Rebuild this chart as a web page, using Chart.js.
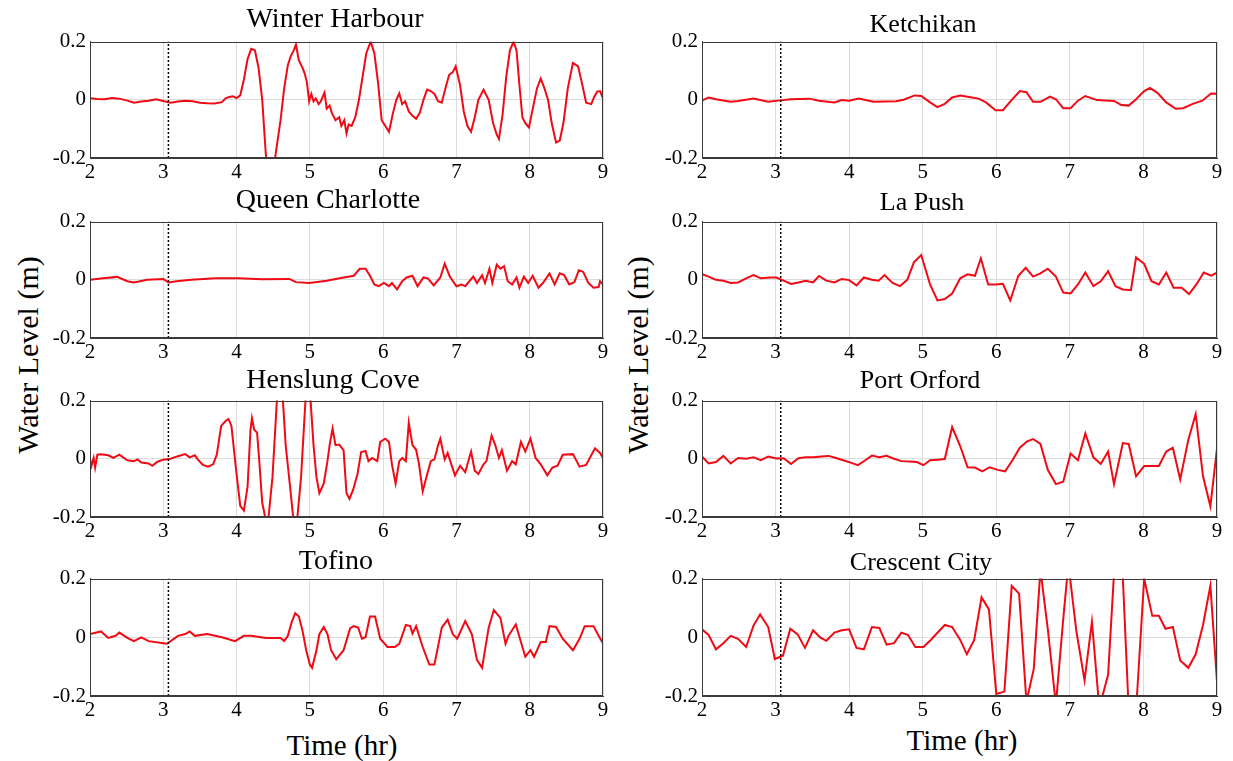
<!DOCTYPE html>
<html>
<head>
<meta charset="utf-8">
<script src="https://cdn.jsdelivr.net/npm/chart.js@4.4.1/dist/chart.umd.min.js"></script>
<style>
  body { margin: 0; background: #fff; width: 1233px; height: 761px; position: relative; overflow: hidden;
         font-family: "Liberation Serif", "Times New Roman", serif; }
  canvas { position: absolute; }
  .lbl { position: absolute; color: #000; white-space: nowrap; line-height: 1; transform: translate(-50%, -50%); }
</style>
</head>
<body>
<script>
// tide gauge records, water level (m) against time (hr)

const arrivalHour = 3.07;   // dotted marker
const xTicks = [2, 3, 4, 5, 6, 7, 8, 9];
const yTicks = [-0.2, 0, 0.2];

const winterHarbour = [
  [2.0,0.005],[2.1,0.003],[2.2,0.002],[2.3,0.006],[2.4,0.004],[2.5,-0.002],[2.6,-0.01],[2.7,-0.006],
  [2.8,-0.003],[2.9,0.002],[3.0,-0.004],[3.1,-0.01],[3.2,-0.006],[3.3,-0.003],[3.4,-0.005],[3.5,-0.01],
  [3.6,-0.012],[3.7,-0.013],[3.8,-0.008],[3.85,0.005],[3.9,0.01],[3.95,0.012],[4.0,0.006],[4.05,0.015],
  [4.1,0.07],[4.15,0.14],[4.2,0.175],[4.25,0.17],[4.3,0.11],[4.35,0.0],[4.4,-0.19],[4.46,-0.3],
  [4.52,-0.21],[4.6,-0.07],[4.65,0.04],[4.7,0.12],[4.74,0.15],[4.78,0.17],[4.81,0.19],[4.85,0.135],
  [4.9,0.11],[4.93,0.09],[4.96,0.06],[4.99,-0.005],[5.02,0.02],[5.05,-0.005],[5.08,0.005],[5.12,-0.015],
  [5.15,-0.005],[5.2,0.025],[5.23,-0.03],[5.27,-0.02],[5.3,-0.045],[5.35,-0.07],[5.4,-0.06],[5.43,-0.09],
  [5.47,-0.07],[5.5,-0.115],[5.53,-0.085],[5.57,-0.09],[5.62,-0.06],[5.67,0.0],[5.72,0.08],[5.77,0.16],
  [5.83,0.2],[5.88,0.16],[5.93,0.06],[5.98,-0.07],[6.03,-0.09],[6.08,-0.11],[6.13,-0.05],[6.18,0.0],
  [6.22,0.022],[6.26,-0.015],[6.3,-0.005],[6.35,-0.04],[6.4,-0.055],[6.45,-0.065],[6.5,-0.045],[6.55,0.0],
  [6.6,0.035],[6.65,0.03],[6.7,0.02],[6.75,-0.005],[6.8,-0.01],[6.85,0.04],[6.9,0.085],[6.95,0.095],
  [6.99,0.115],[7.05,0.05],[7.1,-0.04],[7.15,-0.09],[7.2,-0.11],[7.25,-0.06],[7.3,0.0],[7.37,0.035],
  [7.44,0.0],[7.5,-0.08],[7.55,-0.12],[7.58,-0.135],[7.63,-0.05],[7.68,0.08],[7.73,0.17],[7.78,0.2],
  [7.82,0.17],[7.86,0.05],[7.9,-0.06],[7.94,-0.08],[7.99,-0.095],[8.05,-0.02],[8.1,0.04],[8.15,0.073],
  [8.2,0.04],[8.25,0.0],[8.3,-0.08],[8.36,-0.147],[8.41,-0.14],[8.46,-0.08],[8.52,0.04],[8.59,0.127],
  [8.66,0.115],[8.71,0.06],[8.77,-0.01],[8.84,-0.015],[8.88,0.01],[8.92,0.028],[8.96,0.03],[9.0,0.005]
];

const queenCharlotte = [
  [2.0,0],[2.18,0.005],[2.37,0.01],[2.51,-0.005],[2.6,-0.009],[2.78,0],[3.0,0.003],[3.07,-0.009],
  [3.18,-0.005],[3.38,0],[3.71,0.005],[4.03,0.005],[4.35,0.002],[4.72,0.003],[4.81,-0.008],[4.99,-0.011],
  [5.23,-0.003],[5.46,0.008],[5.6,0.014],[5.68,0.038],[5.76,0.038],[5.82,0.014],[5.88,-0.016],[5.94,-0.022],
  [6.01,-0.011],[6.08,-0.022],[6.12,-0.011],[6.19,-0.033],[6.26,-0.005],[6.32,0.008],[6.4,0.014],[6.47,-0.022],
  [6.55,0.008],[6.61,0.005],[6.69,-0.019],[6.78,0.008],[6.84,0.055],[6.91,0.011],[7.0,-0.022],[7.07,-0.016],
  [7.12,-0.022],[7.23,0.011],[7.28,-0.011],[7.35,0.016],[7.39,-0.011],[7.45,0.038],[7.49,-0.011],[7.55,0.052],
  [7.6,0.038],[7.65,0.047],[7.7,-0.005],[7.76,-0.016],[7.82,0.008],[7.86,-0.027],[7.92,0.011],[7.98,-0.011],
  [8.04,0.014],[8.12,-0.027],[8.18,-0.011],[8.27,0.022],[8.34,-0.016],[8.41,0.022],[8.47,0.016],[8.54,-0.016],
  [8.61,-0.008],[8.67,0.033],[8.73,0.027],[8.8,-0.011],[8.87,-0.027],[8.94,-0.025],[8.96,-0.005],[9.0,-0.016]
];

const henslungCove = [
  [2.0,0],[2.02,-0.024],[2.05,0.003],[2.07,-0.03],[2.1,0.014],[2.15,0.016],[2.25,0.012],[2.32,0.003],
  [2.4,0.014],[2.51,-0.005],[2.6,-0.008],[2.65,-0.002],[2.7,-0.013],[2.8,-0.016],[2.85,-0.024],[2.92,-0.01],
  [3.0,-0.003],[3.1,0],[3.2,0.009],[3.3,0.016],[3.36,0.005],[3.43,0.012],[3.47,-0.002],[3.54,-0.021],
  [3.61,-0.027],[3.68,-0.019],[3.73,0.014],[3.79,0.113],[3.85,0.13],[3.89,0.137],[3.93,0.113],[3.99,-0.03],
  [4.05,-0.162],[4.1,-0.178],[4.15,-0.096],[4.19,0.1],[4.21,0.14],[4.24,0.1],[4.28,0.09],[4.31,-0.008],
  [4.35,-0.151],[4.39,-0.2],[4.43,-0.216],[4.49,-0.063],[4.55,0.2],[4.59,0.235],[4.63,0.21],[4.67,0.047],
  [4.73,-0.096],[4.77,-0.195],[4.82,-0.228],[4.88,-0.063],[4.94,0.2],[4.97,0.22],[5.01,0.2],[5.05,0.047],
  [5.09,-0.063],[5.13,-0.118],[5.19,-0.085],[5.24,-0.008],[5.27,0.047],[5.31,0.104],[5.35,0.047],[5.4,0.049],
  [5.46,0.03],[5.5,-0.118],[5.54,-0.138],[5.59,-0.107],[5.65,-0.052],[5.7,0.023],[5.76,0.027],[5.8,-0.008],
  [5.85,0.003],[5.92,-0.008],[5.96,0.058],[6.03,0.069],[6.08,0.058],[6.12,-0.019],[6.17,-0.085],[6.22,-0.008],
  [6.26,0.003],[6.31,-0.008],[6.35,0.124],[6.4,0.047],[6.45,0.031],[6.49,-0.019],[6.54,-0.112],[6.59,-0.063],
  [6.65,-0.008],[6.7,-0.002],[6.75,0.047],[6.78,0.069],[6.84,-0.002],[6.88,0.02],[6.98,-0.057],[7.05,-0.024],
  [7.12,-0.046],[7.2,0.025],[7.25,-0.041],[7.3,-0.052],[7.37,-0.019],[7.41,-0.008],[7.48,0.08],[7.53,0.047],
  [7.58,0.003],[7.62,0.03],[7.69,-0.041],[7.76,-0.008],[7.81,-0.019],[7.88,0.058],[7.94,0.025],[8.01,0.069],
  [8.08,0.003],[8.15,-0.019],[8.24,-0.057],[8.31,-0.03],[8.38,-0.024],[8.45,0.014],[8.59,0.016],[8.68,-0.027],
  [8.77,-0.021],[8.89,0.036],[8.96,0.02],[9.0,0.003]
];

const tofino = [
  [2.0,0.011],[2.15,0.02],[2.25,-0.002],[2.35,0.005],[2.4,0.016],[2.51,-0.002],[2.6,-0.013],[2.7,0],
  [2.8,-0.013],[3.0,-0.02],[3.05,-0.022],[3.2,0.005],[3.3,0.011],[3.36,0.02],[3.43,0.005],[3.6,0.011],
  [3.8,0],[3.98,-0.013],[4.1,0.005],[4.2,0.005],[4.4,-0.002],[4.6,-0.002],[4.65,-0.013],[4.7,0.005],
  [4.75,0.05],[4.8,0.082],[4.85,0.071],[4.9,0.022],[4.95,-0.044],[5.0,-0.093],[5.03,-0.104],[5.09,-0.044],
  [5.13,0.011],[5.19,0.035],[5.24,0.011],[5.29,-0.044],[5.36,-0.075],[5.46,-0.044],[5.55,0.031],[5.6,0.038],
  [5.66,0.033],[5.71,-0.005],[5.76,0],[5.82,0.071],[5.89,0.071],[5.96,-0.005],[6.06,-0.033],[6.16,-0.033],
  [6.22,-0.022],[6.31,0.042],[6.37,0.038],[6.4,0.013],[6.45,0.038],[6.54,-0.033],[6.63,-0.093],[6.7,-0.093],
  [6.8,0.033],[6.88,0.06],[6.95,0.011],[7.01,-0.005],[7.12,0.055],[7.21,0.011],[7.28,-0.077],[7.35,-0.104],
  [7.44,0.033],[7.51,0.093],[7.6,0.066],[7.67,-0.022],[7.71,0.005],[7.81,0.044],[7.9,-0.033],[7.94,-0.066],
  [8.01,-0.044],[8.06,-0.066],[8.15,-0.016],[8.22,-0.016],[8.27,0.038],[8.36,0.035],[8.45,-0.005],[8.59,-0.044],
  [8.68,-0.005],[8.75,0.038],[8.87,0.038],[8.94,0.005],[9.0,-0.02]
];

const ketchikan = [
  [2.0,-0.003],[2.09,0.008],[2.19,0.002],[2.39,-0.007],[2.49,-0.004],[2.7,0.004],[2.9,-0.007],[3.06,-0.002],
  [3.21,0.002],[3.46,0.004],[3.59,-0.003],[3.8,-0.009],[3.9,-0.001],[4.0,-0.003],[4.13,0.004],[4.33,-0.007],
  [4.64,-0.005],[4.74,0],[4.89,0.015],[4.98,0.013],[5.1,-0.009],[5.2,-0.025],[5.3,-0.014],[5.4,0.008],
  [5.51,0.015],[5.63,0.01],[5.76,0.004],[5.86,-0.009],[5.99,-0.036],[6.09,-0.036],[6.22,0.002],[6.32,0.03],
  [6.41,0.026],[6.5,-0.007],[6.6,-0.007],[6.73,0.011],[6.81,0.002],[6.91,-0.029],[7.01,-0.029],[7.11,-0.003],
  [7.21,0.013],[7.37,-0.001],[7.6,-0.004],[7.7,-0.018],[7.8,-0.02],[7.9,0.002],[8.01,0.03],[8.09,0.041],
  [8.19,0.024],[8.31,-0.009],[8.44,-0.031],[8.54,-0.029],[8.67,-0.014],[8.8,-0.003],[8.92,0.022],[9.0,0.021]
];

const laPush = [
  [2.0,0.019],[2.09,0.011],[2.19,0],[2.29,-0.003],[2.39,-0.011],[2.49,-0.009],[2.6,0.005],[2.7,0.016],
  [2.8,0.005],[2.93,0.008],[3.01,0.008],[3.11,-0.003],[3.21,-0.014],[3.31,-0.009],[3.41,-0.003],[3.51,-0.009],
  [3.59,0.013],[3.69,-0.003],[3.8,-0.009],[3.9,0.003],[4.0,-0.001],[4.1,-0.019],[4.2,0.008],[4.31,0],
  [4.4,-0.003],[4.48,0.016],[4.59,-0.011],[4.69,-0.022],[4.79,0],[4.88,0.06],[4.98,0.085],[5.1,-0.016],
  [5.2,-0.071],[5.3,-0.066],[5.4,-0.047],[5.51,0.005],[5.61,0.019],[5.71,0.014],[5.79,0.074],[5.89,-0.016],
  [5.99,-0.016],[6.09,-0.014],[6.19,-0.071],[6.3,0.014],[6.4,0.041],[6.5,0.011],[6.6,0.022],[6.7,0.038],
  [6.81,0.011],[6.91,-0.044],[7.01,-0.047],[7.11,-0.016],[7.21,0.025],[7.32,-0.022],[7.42,-0.005],[7.52,0.03],
  [7.62,-0.022],[7.72,-0.033],[7.83,-0.036],[7.9,0.077],[8.01,0.055],[8.11,-0.005],[8.21,-0.016],[8.31,0.025],
  [8.41,-0.027],[8.52,-0.027],[8.62,-0.049],[8.72,-0.016],[8.82,0.025],[8.92,0.014],[9.0,0.025]
];

const portOrford = [
  [2.0,0.008],[2.09,-0.016],[2.19,-0.011],[2.29,0.01],[2.39,-0.016],[2.49,0.003],[2.6,0],[2.7,0.005],
  [2.8,-0.005],[2.9,0.008],[3.01,0.001],[3.11,0.002],[3.21,-0.018],[3.31,0.002],[3.41,0.005],[3.52,0.005],
  [3.62,0.008],[3.72,0.01],[3.82,0.003],[3.92,-0.005],[4.03,-0.014],[4.12,-0.022],[4.22,-0.005],[4.31,0.011],
  [4.41,0.005],[4.51,0.01],[4.61,0],[4.71,-0.008],[4.82,-0.009],[4.92,-0.011],[5.01,-0.022],[5.1,-0.005],
  [5.2,-0.003],[5.3,-0.001],[5.4,0.109],[5.51,0.043],[5.61,-0.029],[5.71,-0.03],[5.81,-0.043],[5.91,-0.029],
  [6.02,-0.038],[6.12,-0.043],[6.22,-0.005],[6.32,0.038],[6.42,0.06],[6.5,0.068],[6.6,0.051],[6.7,-0.038],
  [6.81,-0.087],[6.91,-0.079],[7.01,0.018],[7.11,-0.005],[7.21,0.087],[7.32,0.005],[7.42,-0.018],[7.52,0.025],
  [7.6,-0.087],[7.72,0.054],[7.8,0.051],[7.9,-0.06],[8.01,-0.025],[8.11,-0.025],[8.21,-0.025],[8.31,0.025],
  [8.4,0.038],[8.5,-0.071],[8.61,0.065],[8.71,0.154],[8.81,-0.06],[8.91,-0.163],[9.0,0.036]
];

const crescentCity = [
  [2.0,0.027],[2.09,0.008],[2.19,-0.041],[2.29,-0.02],[2.39,0.005],[2.49,-0.005],[2.6,-0.033],[2.7,0.04],
  [2.79,0.078],[2.9,0.035],[2.99,-0.074],[3.1,-0.063],[3.2,0.029],[3.3,0.01],[3.4,-0.036],[3.51,0.024],
  [3.61,-0.001],[3.69,-0.012],[3.8,0.016],[3.9,0.024],[4.0,0.027],[4.1,-0.036],[4.2,-0.041],[4.31,0.035],
  [4.41,0.032],[4.51,-0.025],[4.61,-0.02],[4.71,0.016],[4.8,0.008],[4.9,-0.033],[5.01,-0.033],[5.11,-0.009],
  [5.21,0.018],[5.3,0.042],[5.4,0.035],[5.51,-0.009],[5.6,-0.058],[5.7,-0.009],[5.8,0.136],[5.9,0.095],
  [6.0,-0.193],[6.11,-0.185],[6.21,0.175],[6.31,0.149],[6.41,-0.22],[6.51,-0.107],[6.6,0.23],[6.7,0.029],
  [6.81,-0.23],[6.91,0.062],[6.98,0.25],[7.09,0.018],[7.2,-0.147],[7.3,0.053],[7.4,-0.24],[7.52,-0.128],
  [7.61,0.26],[7.71,0.26],[7.8,-0.25],[7.9,-0.25],[8.01,0.2],[8.12,0.073],[8.21,0.073],[8.3,0.029],
  [8.4,0.035],[8.5,-0.079],[8.61,-0.104],[8.71,-0.058],[8.81,0.042],[8.91,0.176],[9.0,-0.15]
];

const panels = [
  { title: 'Winter Harbour',  rec: winterHarbour,  col: 0, row: 0, tx: 335, ty: 18 },
  { title: 'Queen Charlotte', rec: queenCharlotte, col: 0, row: 1, tx: 328, ty: 199 },
  { title: 'Henslung Cove',   rec: henslungCove,   col: 0, row: 2, tx: 333, ty: 379 },
  { title: 'Tofino',          rec: tofino,         col: 0, row: 3, tx: 336, ty: 560 },
  { title: 'Ketchikan',       rec: ketchikan,      col: 1, row: 0, tx: 923, ty: 24 },
  { title: 'La Push',         rec: laPush,         col: 1, row: 1, tx: 922, ty: 202 },
  { title: 'Port Orford',     rec: portOrford,     col: 1, row: 2, tx: 920, ty: 380 },
  { title: 'Crescent City',   rec: crescentCity,   col: 1, row: 3, tx: 921, ty: 562 }
];

// plot area edges in page pixels
const colLeft = [90, 702], colRight = [603, 1217];
const rowTop = [37, 217, 396, 574], rowBottom = [158, 338, 517, 696];
const PAD_T = 12, PAD_R = 12, Y_W = 50, X_H = 30;
const serif = "'Liberation Serif', 'Times New Roman', serif";

Chart.defaults.font.family = serif;
Chart.defaults.color = '#000';

function addLabel(text, x, y, size, rotate) {
  const d = document.createElement('div');
  d.className = 'lbl';
  d.textContent = text;
  d.style.left = x + 'px';
  d.style.top = y + 'px';
  d.style.fontSize = size + 'px';
  if (rotate) d.style.transform = 'translate(-50%, -50%) rotate(-90deg)';
  document.body.appendChild(d);
}

// box around the plot area, like the matlab axes
const frame = {
  id: 'frame',
  afterDraw(chart) {
    const a = chart.chartArea, c = chart.ctx;
    c.save();
    c.strokeStyle = '#3a3a3a';
    c.lineWidth = 1;
    c.strokeRect(Math.round(a.left) + 0.5, Math.round(a.top) + 0.5,
                 Math.round(a.right - a.left) - 1, Math.round(a.bottom - a.top) - 1);
    c.restore();
  }
};

function fmt(v) {
  if (Math.abs(v) < 1e-9) return '0';
  return (Math.round(v * 10) / 10).toString();
}

function drawPanel(p) {
  const left = colLeft[p.col] - Y_W;
  const top = rowTop[p.row] - PAD_T;
  const w = colRight[p.col] - left + PAD_R;
  const h = rowBottom[p.row] - top + X_H;

  const cv = document.createElement('canvas');
  cv.width = w; cv.height = h;
  cv.style.left = left + 'px';
  cv.style.top = top + 'px';
  document.body.appendChild(cv);

  new Chart(cv, {
    type: 'line',
    data: {
      datasets: [
        {
          data: [{ x: arrivalHour, y: yTicks[0] }, { x: arrivalHour, y: yTicks[2] }],
          borderColor: '#000',
          borderWidth: 1.5,
          borderDash: [2, 2],
          pointRadius: 0,
          clip: 0
        },
        {
          data: p.rec.map(r => ({ x: r[0], y: r[1] })),
          borderColor: 'rgb(240, 10, 20)',
          borderWidth: 2,
          pointRadius: 0,
          tension: 0,
          clip: 0
        }
      ]
    },
    options: {
      responsive: false,
      animation: false,
      events: [],
      layout: { padding: { top: PAD_T, right: PAD_R, left: 0, bottom: 0 } },
      plugins: { legend: { display: false }, tooltip: { enabled: false } },
      scales: {
        x: {
          type: 'linear',
          min: xTicks[0],
          max: xTicks[xTicks.length - 1],
          afterBuildTicks: s => { s.ticks = xTicks.map(v => ({ value: v })); },
          afterFit: s => { s.height = X_H; },
          ticks: { color: '#000', font: { family: serif, size: 21 }, padding: 2, maxRotation: 0 },
          grid: { color: '#dcdcdc', drawTicks: false },
          border: { color: '#3a3a3a' }
        },
        y: {
          min: yTicks[0],
          max: yTicks[2],
          afterBuildTicks: s => { s.ticks = yTicks.map(v => ({ value: v })); },
          afterFit: s => { s.width = Y_W; },
          ticks: { color: '#000', font: { family: serif, size: 21 }, padding: 4, callback: v => fmt(v) },
          grid: { color: c => (c.tick && Math.abs(c.tick.value) < 1e-9) ? '#dcdcdc' : 'rgba(0,0,0,0)', drawTicks: false },
          border: { color: '#3a3a3a' }
        }
      }
    },
    plugins: [frame]
  });

  addLabel(p.title, p.tx, p.ty, p.col === 0 ? 28 : 26);
}

addLabel('Water Level (m)', 28, 355, 30, true);
addLabel('Water Level (m)', 638, 355, 30, true);
addLabel('Time (hr)', 342, 745, 29);
addLabel('Time (hr)', 962, 740, 29);

panels.forEach(drawPanel);
</script>
</body>
</html>
